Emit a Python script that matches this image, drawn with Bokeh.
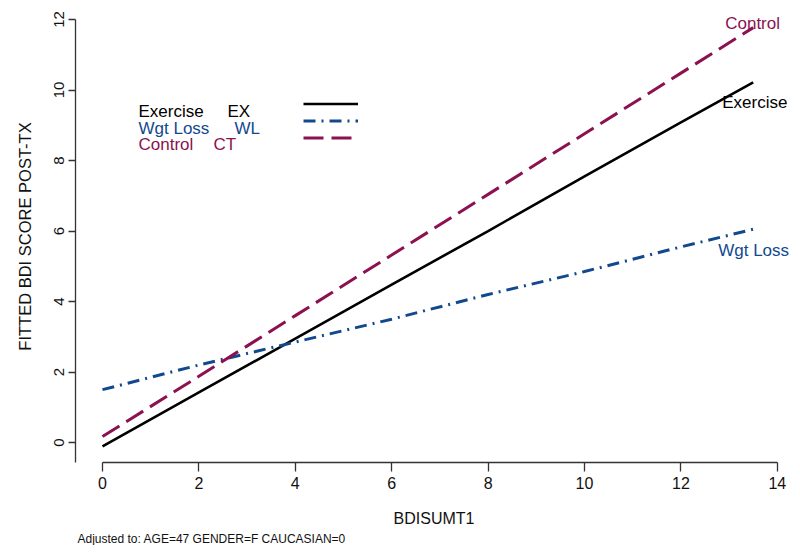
from bokeh.plotting import figure
from bokeh.models import (ColumnDataSource, FixedTicker, Legend, LegendItem,
                          Label, Title, Range1d)
from bokeh.core.properties import value
from bokeh.embed import file_html
from bokeh.resources import INLINE

# ---- data ----
bdi_t1 = [0, 2, 4, 6, 8, 10, 12, 13.5]
exercise = [-0.11, 1.42, 2.95, 4.48, 6.0, 7.55, 9.08, 10.22]
wgt_loss = [1.5, 2.2, 2.85, 3.5, 4.2, 4.85, 5.55, 6.05]
control = [0.17, 1.88, 3.6, 5.32, 7.04, 8.76, 10.48, 11.77]

x_ticks = [0, 2, 4, 6, 8, 10, 12, 14]
y_ticks = [0, 2, 4, 6, 8, 10, 12]

series_names = ["Exercise", "Wgt Loss", "Control"]
series_codes = ["EX", "WL", "CT"]

FONT = "Liberation Sans"
BLACK = "#000000"
BLUE = "#12498E"
MAROON = "#8C1150"

p = figure(width=792, height=545, output_backend="svg", toolbar_location=None,
           x_range=Range1d(-0.56, 14.315), y_range=Range1d(-0.566, 12.256),
           min_border_left=75, min_border_right=0, min_border_top=10,
           min_border_bottom=82)
p.outline_line_color = None
p.xgrid.visible = False
p.ygrid.visible = False
p.background_fill_color = "white"

# ---- axes ----
for ax in (p.xaxis[0], p.yaxis[0]):
    ax.axis_line_color = "#333333"
    ax.axis_line_width = 1.3
    ax.major_tick_line_color = "#333333"
    ax.major_tick_line_width = 1.3
    ax.major_tick_in = 0
    ax.minor_tick_line_color = None
    ax.major_label_text_font = FONT
    ax.major_label_text_color = "#111111"
    ax.axis_label_text_font = FONT
    ax.axis_label_text_font_style = "normal"
    ax.axis_label_text_color = "#111111"

xa = p.xaxis[0]
xa.ticker = FixedTicker(ticks=x_ticks)
xa.bounds = (0, 14)
xa.major_tick_out = 9
xa.major_label_standoff = 5
xa.major_label_text_font_size = "16px"
xa.axis_label = "BDISUMT1"
xa.axis_label_text_font_size = "16px"
xa.axis_label_standoff = 18

ya = p.yaxis[0]
ya.ticker = FixedTicker(ticks=y_ticks)
ya.bounds = (-0.566, 12)
ya.major_tick_out = 7
ya.major_label_standoff = 4
ya.major_label_orientation = "parallel"
ya.major_label_text_font_size = "15px"
ya.axis_label = "FITTED BDI SCORE POST-TX"
ya.axis_label_text_font_size = "16.5px"
ya.axis_label_standoff = 18

# ---- lines ----
src = ColumnDataSource(dict(x=bdi_t1, ex=exercise, wl=wgt_loss, ct=control))
r_ex = p.line("x", "ex", source=src, line_color=BLACK, line_width=2.6)
r_wl = p.line("x", "wl", source=src, line_color=BLUE, line_width=3,
              line_dash="12 6 2 6")
r_ct = p.line("x", "ct", source=src, line_color=MAROON, line_width=3,
              line_dash="20 8")

# ---- end-of-line labels ----
end_specs = [
    (exercise, "Exercise", BLACK, -31, 20),
    (wgt_loss, "Wgt Loss", BLUE, -35, 21),
    (control, "Control", MAROON, -28, -4),
]
for ys, name, col, dx, dy in end_specs:
    p.text(x=[bdi_t1[-1]], y=[ys[-1]], text=[name], text_color=col,
           text_font=value(FONT), text_font_size="17px",
           text_baseline="alphabetic", text_align="left",
           x_offset=dx, y_offset=dy)

# ---- legend: sample lines via Legend, labels via Label ----
legend = Legend(items=[LegendItem(label=" ", renderers=[r]) for r in (r_ex, r_wl, r_ct)],
                location=(228, 316), orientation="vertical",
                glyph_width=55, glyph_height=17, label_height=17,
                label_width=0, label_standoff=0, spacing=0, padding=0,
                margin=0, border_line_color=None, background_fill_alpha=0,
                label_text_font_size="1px")
p.add_layout(legend, "center")

text_cols = [BLACK, BLUE, MAROON]
code_x = [227, 234, 213]
for i, (nm, cd) in enumerate(zip(series_names, series_codes)):
    base_y = 463 - (112 + 16.5 * i)  # from frame bottom
    p.add_layout(Label(x=138 - 75, y=base_y, x_units="screen", y_units="screen",
                       text=nm, text_color=text_cols[i], text_font=FONT,
                       text_font_size="17px", text_baseline="alphabetic"))
    p.add_layout(Label(x=code_x[i] - 75, y=base_y, x_units="screen", y_units="screen",
                       text=cd, text_color=text_cols[i], text_font=FONT,
                       text_font_size="17px", text_baseline="alphabetic"))

# ---- footnote ----
p.add_layout(Title(text="Adjusted to: AGE=47 GENDER=F CAUCASIAN=0", align="left",
                   offset=2, text_font=FONT, text_font_size="12px",
                   text_font_style="normal", text_color="#111111",
                   standoff=0), "below")

open("out.html", "w").write(file_html(p, INLINE))
